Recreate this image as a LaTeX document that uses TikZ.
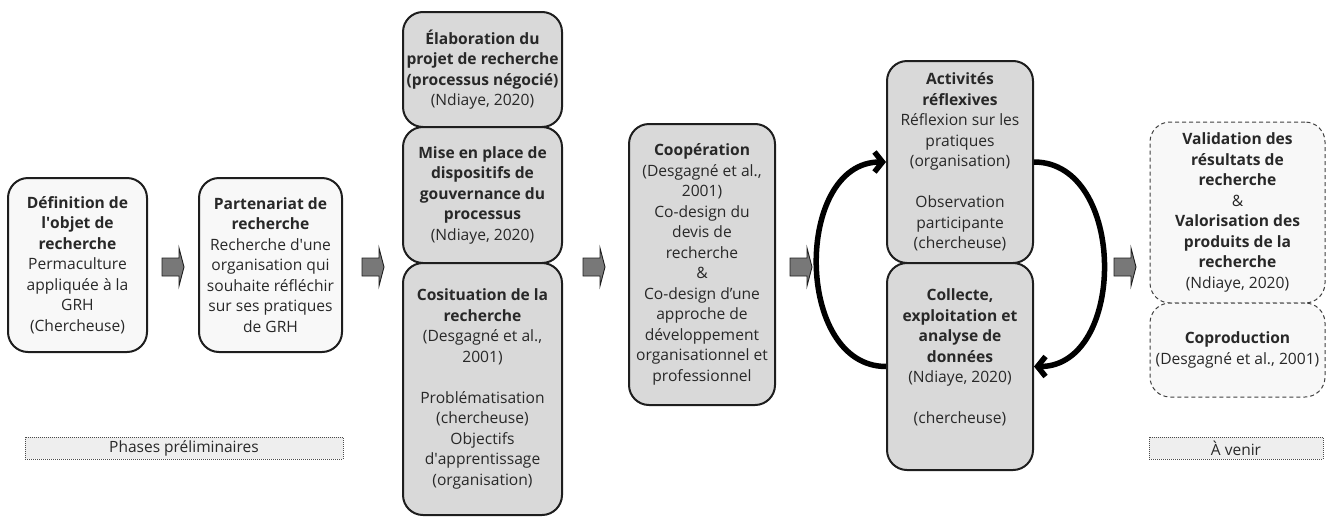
\documentclass[tikz,border=0pt]{standalone}
\usepackage{fontspec}
\setmainfont{Open Sans}
\usetikzlibrary{arrows.meta}
\definecolor{arrowgrey}{RGB}{120,120,120}
\definecolor{boxgrey}{RGB}{217,217,217}
\definecolor{boxwhite}{RGB}{248,248,248}
\definecolor{labelgrey}{RGB}{238,238,238}
\definecolor{ink}{RGB}{30,30,30}
\definecolor{txt}{RGB}{40,40,40}
\tikzset{
  base/.style={draw=ink, line width=2pt, rounded corners=20pt, align=center,
    inner sep=0pt, font=\fontsize{15.6}{20.5}\selectfont, text=txt},
  whitebox/.style={base, fill=boxwhite},
  greybox/.style={base, fill=boxgrey},
  dashbox/.style={base, draw=ink!85, line width=1pt, dash pattern=on 4pt off 3pt, fill=boxwhite},
  labelbox/.style={draw=ink!80, line width=0.9pt, dash pattern=on 1pt off 1pt, fill=labelgrey,
    inner sep=0pt, font=\fontsize{15.5}{18}\selectfont, text=txt},
  looparrow/.style={draw=black, line width=5.5pt, -{Straight Barb[length=8pt,width=20pt]}},
  blockarrow/.pic={\draw[fill=arrowgrey, draw=ink, line width=0.9pt]
    (-11,-9) -- (6,-9) -- (6,-19) -- (11,0) -- (6,19) -- (6,9) -- (-11,9) -- cycle;}
}
\begin{document}
\begin{tikzpicture}[x=1pt, y=-1pt]
\useasboundingbox (0,0) rectangle (1327,517);

% column 1 and 2
\node[whitebox, minimum width=139pt, minimum height=174pt] (def) at (77.5,265)
  {\textbf{Définition de}\\\textbf{l\textquotesingle objet de}\\\textbf{recherche}\\Permaculture\\appliquée à la\\GRH\\(Chercheuse)};
\node[whitebox, minimum width=143pt, minimum height=174pt] (part) at (270.5,265)
  {\textbf{Partenariat de}\\\textbf{recherche}\\Recherche d\textquotesingle une\\organisation qui\\souhaite réfléchir\\sur ses pratiques\\de GRH};

% column 3
\node[greybox, minimum width=159pt, minimum height=115pt] (elab) at (482.5,69.5)
  {\textbf{Élaboration du}\\\textbf{projet de recherche}\\\textbf{(processus négocié)}\\(Ndiaye, 2020)};
\node[greybox, minimum width=159pt, minimum height=136pt] (mise) at (482.5,195)
  {\textbf{Mise en place de}\\\textbf{dispositifs de}\\\textbf{gouvernance du}\\\textbf{processus}\\(Ndiaye, 2020)};
\node[greybox, minimum width=159pt, minimum height=252pt] (cosit) at (482.5,389)
  {\textbf{Cosituation de la}\\\textbf{recherche}\\(Desgagné et al.,\\2001)\\[20.5pt]Problématisation\\(chercheuse)\\Objectifs\\d\textquotesingle apprentissage\\(organisation)};

% column 4
\node[greybox, minimum width=146pt, minimum height=281pt] (coop) at (702,264.5)
  {\textbf{Coopération}\\(Desgagné et al.,\\2001)\\Co-design du\\devis de\\recherche\\\&\\Co-design d’une\\approche de\\développement\\organisationnel et\\professionnel};

% loop
\node[greybox, minimum width=146pt, minimum height=202pt] (activ) at (960,162)
  {\textbf{Activités}\\\textbf{réflexives}\\Réflexion sur les\\pratiques\\(organisation)\\[20.5pt]Observation\\participante\\(chercheuse)};
\node[greybox, minimum width=146pt, minimum height=207pt] (coll) at (960,366.5)
  {\textbf{Collecte,}\\\textbf{exploitation et}\\\textbf{analyse de}\\\textbf{données}\\(Ndiaye, 2020)\\[20.5pt](chercheuse)\\\mbox{}};

\draw[looparrow] (coll.west) .. controls +(-92,0) and +(-92,0) .. (activ.west);
\draw[looparrow] (activ.east) .. controls +(93,0) and +(93,0) .. (coll.east);

% future
\node[dashbox, minimum width=175pt, minimum height=181pt] (valid) at (1237.5,212.5)
  {\textbf{Validation des}\\\textbf{résultats de}\\\textbf{recherche}\\\&\\\textbf{Valorisation des}\\\textbf{produits de la}\\\textbf{recherche}\\(Ndiaye, 2020)};
\node[dashbox, minimum width=175pt, minimum height=94pt] (coprod) at (1237.5,350)
  {\textbf{Coproduction}\\(Desgagné et al., 2001)};

% block arrows
\pic at (173,267) {blockarrow};
\pic at (373,267) {blockarrow};
\pic at (594,267) {blockarrow};
\pic at (801,267) {blockarrow};
\pic at (1125,267) {blockarrow};

% labels
\node[labelbox, minimum width=318pt, minimum height=22pt] (prelim) at (184,448) {Phases préliminaires};
\node[labelbox, minimum width=174pt, minimum height=22pt] (avenir) at (1236,448) {À venir};
\end{tikzpicture}
\end{document}
